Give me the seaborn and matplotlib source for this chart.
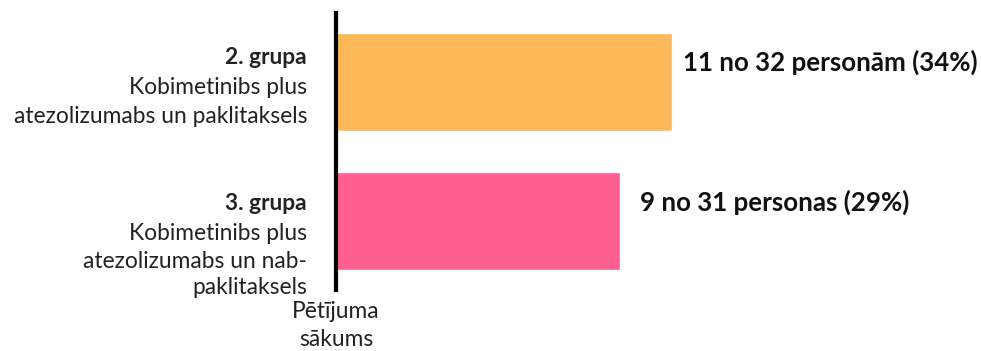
import matplotlib
matplotlib.use("Agg")
import matplotlib.pyplot as plt
import seaborn as sns
import pandas as pd

# ---- data ----
groups = ["2. grupa", "3. grupa"]
descriptions = [
    ["Kobimetinibs plus", "atezolizumabs un paklitaksels"],
    ["Kobimetinibs plus", "atezolizumabs un nab-", "paklitaksels"],
]
responders = [11, 9]
totals = [32, 31]
percents = [r / t * 100 for r, t in zip(responders, totals)]
value_labels = ["11 no 32 personām (34%)", "9 no 31 personas (29%)"]
axis_label = ["Pētījuma", "sākums"]
colors = ["#FDB858", "#FF5F8E"]

df = pd.DataFrame({"group": groups, "pct": percents})

sns.set_theme(style="white")
plt.rcParams["font.family"] = ["Lato", "DejaVu Sans"]

W, H = 981, 351
fig = plt.figure(figsize=(W / 100, H / 100), dpi=100)

def fx(x):
    return x / W

def fy(y):
    return 1 - y / H

ax_left, ax_top, ax_bottom = 336, 13, 290
ax = fig.add_axes([fx(ax_left), fy(ax_bottom), 1 - fx(ax_left), (ax_bottom - ax_top) / H])

sns.barplot(data=df, y="group", x="pct", hue="group", palette=colors,
            orient="h", width=0.705, legend=False, ax=ax, saturation=1)

px_per_pct = 336 / percents[0]
ax.set_xlim(0, (W - ax_left) / px_per_pct)
ax.set_ylim(1.496, -0.496)
for s in ["top", "right", "bottom"]:
    ax.spines[s].set_visible(False)
ax.spines["left"].set_linewidth(3)
ax.spines["left"].set_color("black")
ax.set_xticks([])
ax.set_yticks([])
ax.set_xlabel("")
ax.set_ylabel("")

# value labels
offsets = [(11, 20), (20, 19)]
for i, (p, lab) in enumerate(zip(percents, value_labels)):
    ax.annotate(lab, xy=(p, i), xytext=(offsets[i][0], offsets[i][1]),
                textcoords="offset pixels", ha="left", va="center",
                fontsize=18.6, fontweight="bold", color="#111111")

# left labels
line_y = [[58, 88, 117], [203, 233, 262, 287]]
fs = 16.4
for g, desc, ys in zip(groups, descriptions, line_y):
    fig.text(fx(307), fy(ys[0]), g, ha="right", va="center",
             fontsize=fs, fontweight="bold", color="#222222")
    for t, y in zip(desc, ys[1:]):
        fig.text(fx(307), fy(y), t, ha="right", va="center",
                 fontsize=fs, color="#222222")

for t, y in zip(axis_label, [312, 340]):
    fig.text(fx(336), fy(y), t, ha="center", va="center",
             fontsize=fs, color="#222222")

fig.savefig("out.png", dpi=100)
